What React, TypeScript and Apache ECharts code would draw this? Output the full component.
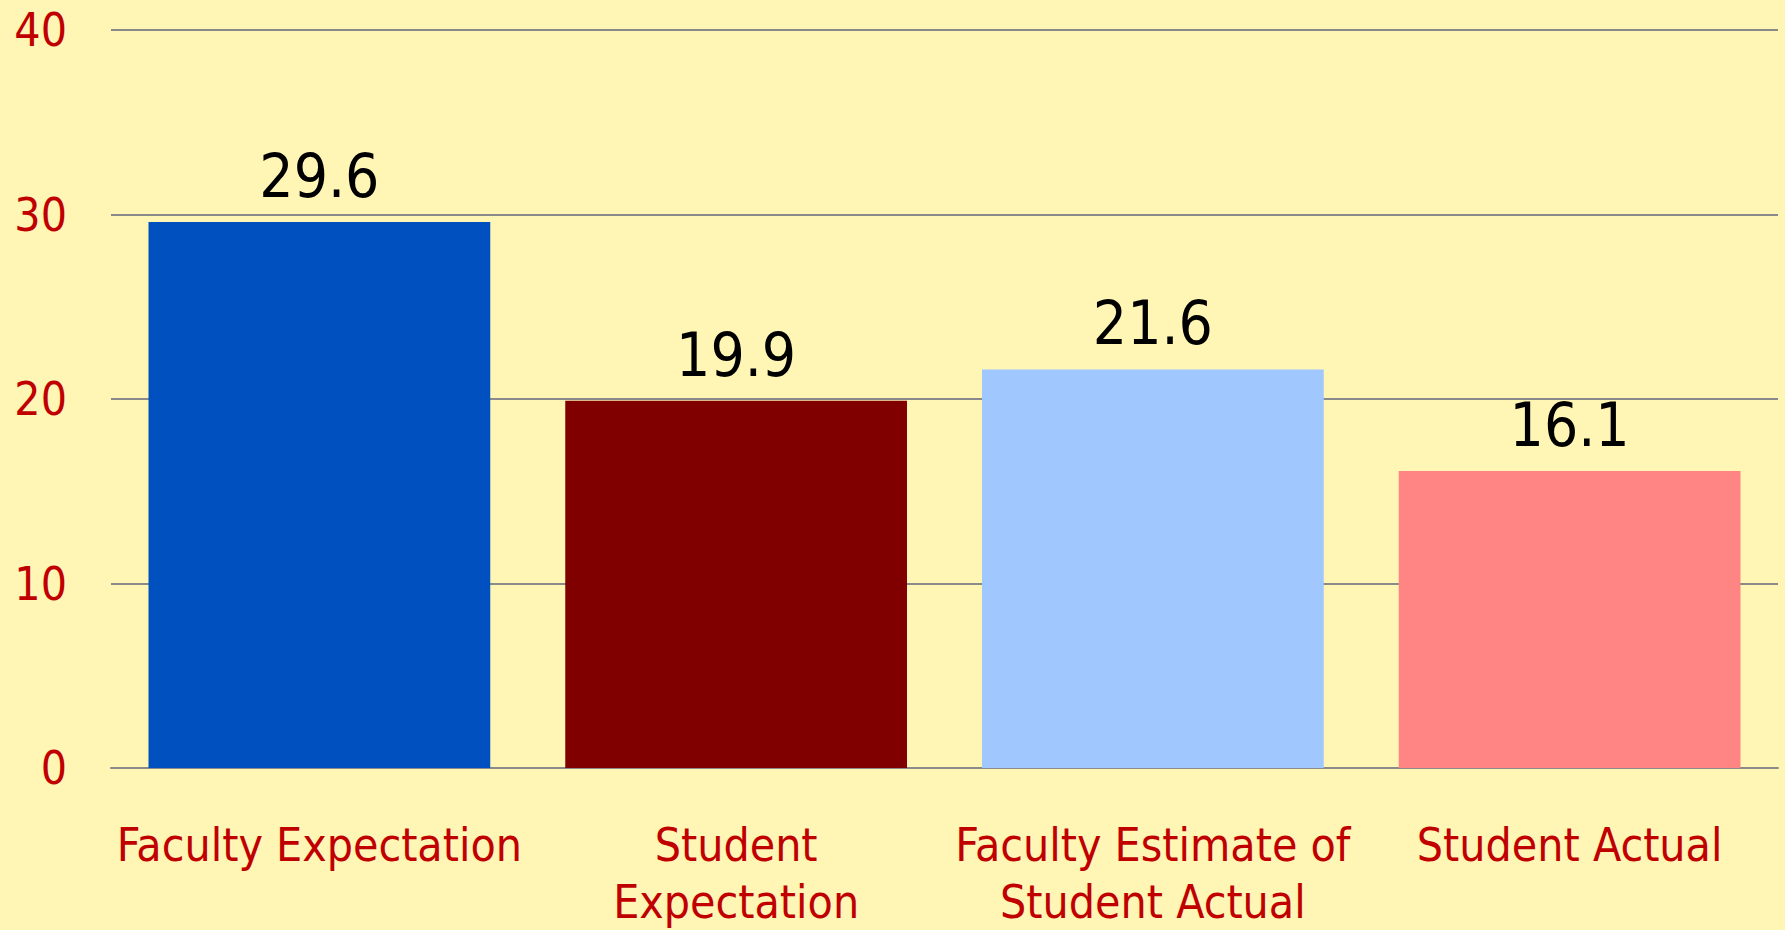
import React, { useEffect, useRef } from "react";
import * as echarts from "echarts";

const categories = [
  "Faculty Expectation",
  "Student\nExpectation",
  "Faculty Estimate of\nStudent Actual",
  "Student Actual",
];
const values = [29.6, 19.9, 21.6, 16.1];
const barColors = ["#0050C0", "#800000", "#A0C8FF", "#FF8484"];
const yTicks = { min: 0, max: 40, interval: 10 };

const FONT = "'DejaVu Sans Condensed', 'DejaVu Sans', sans-serif";

export default function App() {
  const ref = useRef<HTMLDivElement>(null);
  useEffect(() => {
    if (!ref.current) return;
    const chart = echarts.init(ref.current, null, { renderer: "svg" });
    chart.setOption({
      animation: false,
      backgroundColor: "#FFF5B5",
      grid: { left: 111, right: 7, top: 30, bottom: 159, containLabel: false },
      xAxis: {
        type: "category",
        data: categories,
        axisLine: { show: true, lineStyle: { color: "#8A8A8A", width: 2 } },
        axisTick: { show: false },
        axisLabel: {
          color: "#C00000",
          fontFamily: FONT,
          fontSize: 46,
          lineHeight: 57,
          margin: 48,
          interval: 0,
        },
      },
      yAxis: {
        type: "value",
        min: yTicks.min,
        max: yTicks.max,
        interval: yTicks.interval,
        axisLine: { show: false },
        axisTick: { show: false },
        splitLine: { show: true, lineStyle: { color: "#8A8A8A", width: 2 } },
        axisLabel: {
          color: "#C00000",
          fontFamily: FONT,
          fontSize: 46,
          margin: 44,
        },
      },
      series: [
        {
          type: "bar",
          data: values.map((v, i) => ({ value: v, itemStyle: { color: barColors[i] } })),
          barCategoryGap: "18%",
          label: {
            show: true,
            position: "top",
            distance: 16,
            color: "#000000",
            fontFamily: FONT,
            fontSize: 60,
          },
        },
      ],
    });
    return () => chart.dispose();
  }, []);
  return (
    <div
      ref={ref}
      style={{ position: "fixed", left: 0, top: 0, width: 1785, height: 930 }}
    />
  );
}
